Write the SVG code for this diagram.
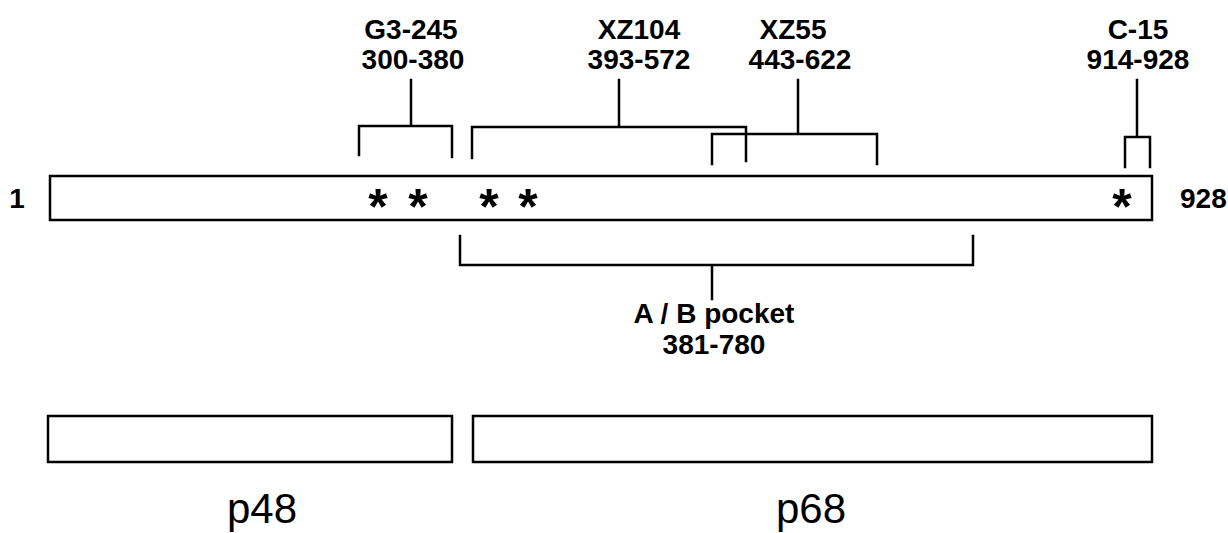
<svg xmlns="http://www.w3.org/2000/svg" width="1228" height="533" viewBox="0 0 1228 533">
<style>
.box{fill:#fff;stroke:#000;stroke-width:2.5}
.br{fill:none;stroke:#000;stroke-width:2.5;stroke-linejoin:miter;stroke-linecap:square}
.lb{font-family:"Liberation Sans",Arial,sans-serif;font-weight:bold;font-size:28px;fill:#000;text-anchor:middle}
.ast{font-family:"Liberation Sans",Arial,sans-serif;font-weight:bold;font-size:50px;fill:#000;text-anchor:middle}
.big{font-family:"Liberation Sans",Arial,sans-serif;font-size:42px;fill:#000;text-anchor:middle}
</style>
<rect width="1228" height="533" fill="#fff"/>
<g id="protein">
<rect class="box" x="50" y="176" width="1102" height="44"/>
<text class="lb" x="17" y="208">1</text>
<text class="lb" x="1180" y="208" style="text-anchor:start">928</text>
<text class="ast" x="378" y="224">*</text>
<text class="ast" x="418" y="224">*</text>
<text class="ast" x="489" y="224">*</text>
<text class="ast" x="528" y="224">*</text>
<text class="ast" x="1122" y="224">*</text>
</g>
<g id="g3-245">
<text class="lb" x="411" y="39">G3-245</text>
<text class="lb" x="413" y="69">300-380</text>
</g>
<g id="xz104">
<text class="lb" x="639" y="39">XZ104</text>
<text class="lb" x="639" y="69">393-572</text>
</g>
<g id="xz55">
<text class="lb" x="793" y="39">XZ55</text>
<text class="lb" x="800" y="69">443-622</text>
</g>
<g id="c-15">
<text class="lb" x="1138" y="39">C-15</text>
<text class="lb" x="1138" y="69">914-928</text>
</g>
<g id="ab-pocket">
<text class="lb" x="714" y="323">A / B pocket</text>
<text class="lb" x="714" y="354">381-780</text>
</g>
<g id="p48">
<rect class="box" x="48" y="416" width="404" height="46"/>
<text class="big" x="262" y="523">p48</text>
</g>
<g id="p68">
<rect class="box" x="473" y="416" width="679" height="46"/>
<text class="big" x="811" y="523">p68</text>
</g>
<g id="connectors">
<path class="br" d="M359,155 V126 H452 V157 M411,126 V80"/>
<path class="br" d="M472,158 V127 H746 V161 M619,127 V80"/>
<path class="br" d="M712,164 V134 H877 V164 M798,134 V80"/>
<path class="br" d="M1125,167 V137 H1150 V167 M1137,137 V80"/>
<path class="br" d="M460,236 V265 H973 V236 M712,265 V299"/>
</g>
</svg>
